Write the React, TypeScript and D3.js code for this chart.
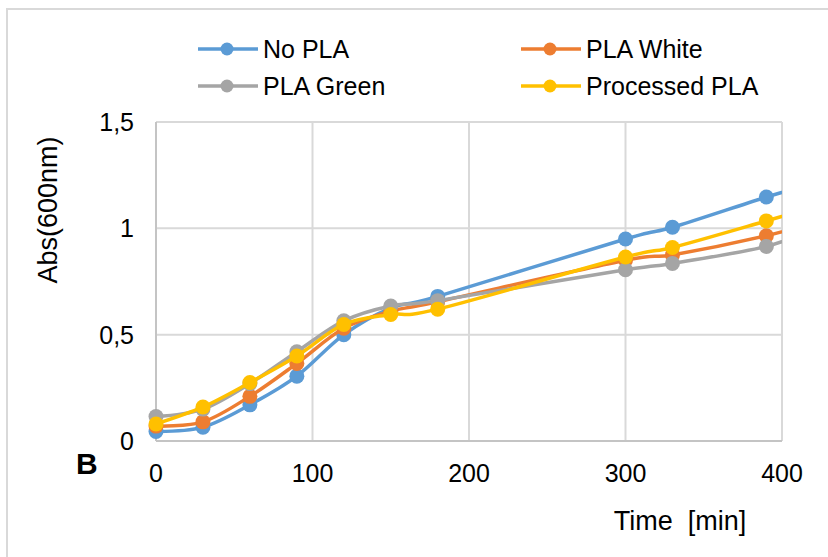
import React, { useEffect, useRef } from 'react';
import * as d3 from 'd3';

// time points (min); the last one lies past the axis end and is clipped
const times = [0, 30, 60, 90, 120, 150, 180, 300, 330, 390, 420];

const noPla = [0.045, 0.065, 0.17, 0.305, 0.5, 0.625, 0.68, 0.95, 1.005, 1.147, 1.21];
const plaWhite = [0.07, 0.09, 0.21, 0.365, 0.53, 0.61, 0.655, 0.85, 0.875, 0.965, 1.03];
const plaGreen = [0.115, 0.15, 0.27, 0.42, 0.565, 0.635, 0.66, 0.805, 0.835, 0.915, 1.0];
const processedPla = [0.08, 0.16, 0.275, 0.4, 0.548, 0.595, 0.62, 0.865, 0.91, 1.035, 1.1];

const seriesNames = ['No PLA', 'PLA White', 'PLA Green', 'Processed PLA'];
const seriesColors = ['#5B9BD5', '#ED7D31', '#A5A5A5', '#FFC000'];

const xTicks = [0, 100, 200, 300, 400];
const yTicks = [0, 0.5, 1, 1.5];

const App: React.FC = () => {
    const svgRef = useRef<SVGSVGElement | null>(null);

    useEffect(() => {
        const svg = d3.select(svgRef.current);
        svg.selectAll("*").remove();

        const font = "'Liberation Sans', Arial, sans-serif";
        const plot = { left: 156, right: 782, top: 122, bottom: 441 };

        const x = d3.scaleLinear().domain([0, 400]).range([plot.left, plot.right]);
        const y = d3.scaleLinear().domain([0, 1.5]).range([plot.bottom, plot.top]);

        // outer chart frame (runs off the right and bottom of the picture)
        svg.append("rect")
            .attr("x", 7).attr("y", 9)
            .attr("width", 900).attr("height", 600)
            .attr("fill", "#fff")
            .attr("stroke", "#d9d9d9")
            .attr("stroke-width", 2);

        // gridlines
        svg.append("g")
            .selectAll("line.v")
            .data(xTicks)
            .enter().append("line")
            .attr("x1", d => x(d)).attr("x2", d => x(d))
            .attr("y1", plot.top).attr("y2", plot.bottom)
            .attr("stroke", "#d9d9d9").attr("stroke-width", 2);

        svg.append("g")
            .selectAll("line.h")
            .data(yTicks)
            .enter().append("line")
            .attr("x1", plot.left).attr("x2", plot.right)
            .attr("y1", d => y(d)).attr("y2", d => y(d))
            .attr("stroke", "#d9d9d9").attr("stroke-width", 2);

        // axis lines
        svg.append("line")
            .attr("x1", plot.left).attr("x2", plot.left)
            .attr("y1", plot.top).attr("y2", plot.bottom)
            .attr("stroke", "#c4c4c4").attr("stroke-width", 2);
        svg.append("line")
            .attr("x1", plot.left).attr("x2", plot.right)
            .attr("y1", plot.bottom).attr("y2", plot.bottom)
            .attr("stroke", "#c4c4c4").attr("stroke-width", 2);

        // tick labels
        svg.append("g")
            .selectAll("text")
            .data(xTicks)
            .enter().append("text")
            .attr("x", d => x(d))
            .attr("y", 482)
            .attr("text-anchor", "middle")
            .attr("font-family", font)
            .attr("font-size", 25)
            .attr("fill", "#000")
            .text(d => String(d));

        svg.append("g")
            .selectAll("text")
            .data(yTicks)
            .enter().append("text")
            .attr("x", 134)
            .attr("y", d => y(d) + 9)
            .attr("text-anchor", "end")
            .attr("font-family", font)
            .attr("font-size", 25)
            .attr("fill", "#000")
            .text(d => d3.format("~")(d).replace(".", ","));

        // axis titles
        svg.append("text")
            .attr("x", 680)
            .attr("y", 530)
            .attr("text-anchor", "middle")
            .attr("font-family", font)
            .attr("font-size", 27)
            .attr("fill", "#000")
            .style("white-space", "pre")
            .text("Time  [min]");

        svg.append("text")
            .attr("transform", "translate(57,210) rotate(-90)")
            .attr("text-anchor", "middle")
            .attr("font-family", font)
            .attr("font-size", 27)
            .attr("fill", "#000")
            .text("Abs(600nm)");

        // panel letter
        svg.append("text")
            .attr("x", 76)
            .attr("y", 474)
            .attr("font-family", font)
            .attr("font-size", 30)
            .attr("font-weight", "bold")
            .attr("fill", "#000")
            .text("B");

        // clip at the right edge of the plot area
        svg.append("defs").append("clipPath")
            .attr("id", "plot-clip")
            .append("rect")
            .attr("x", 0).attr("y", 0)
            .attr("width", plot.right).attr("height", 557);

        const allSeries = [noPla, plaWhite, plaGreen, processedPla];
        const line = d3.line<number>()
            .x((_, i) => x(times[i]))
            .y(d => y(d))
            .curve(d3.curveCardinal);

        const marks = svg.append("g").attr("clip-path", "url(#plot-clip)");
        allSeries.forEach((values, s) => {
            marks.append("path")
                .datum(values)
                .attr("d", line)
                .attr("fill", "none")
                .attr("stroke", seriesColors[s])
                .attr("stroke-width", 3.5)
                .attr("stroke-linejoin", "round");
            marks.append("g")
                .selectAll("circle")
                .data(values)
                .enter().append("circle")
                .attr("cx", (_, i) => x(times[i]))
                .attr("cy", d => y(d))
                .attr("r", 7.5)
                .attr("fill", seriesColors[s]);
        });

        // legend, two columns
        const legendCols = [198, 521];
        const legendRows = [49, 86];
        const legend = svg.append("g");
        seriesNames.forEach((name, i) => {
            const lx = legendCols[i % 2];
            const ly = legendRows[Math.floor(i / 2)];
            legend.append("line")
                .attr("x1", lx).attr("x2", lx + 60)
                .attr("y1", ly).attr("y2", ly)
                .attr("stroke", seriesColors[i])
                .attr("stroke-width", 3.5);
            legend.append("circle")
                .attr("cx", lx + 29).attr("cy", ly)
                .attr("r", 6.5)
                .attr("fill", seriesColors[i]);
            legend.append("text")
                .attr("x", lx + 65)
                .attr("y", ly + 8.5)
                .attr("font-family", font)
                .attr("font-size", 25)
                .attr("fill", "#000")
                .text(name);
        });
    }, []);

    return (
        <svg
            ref={svgRef}
            width={828}
            height={557}
            style={{ position: 'absolute', left: 0, top: 0, display: 'block' }}
        />
    );
};

export default App;
